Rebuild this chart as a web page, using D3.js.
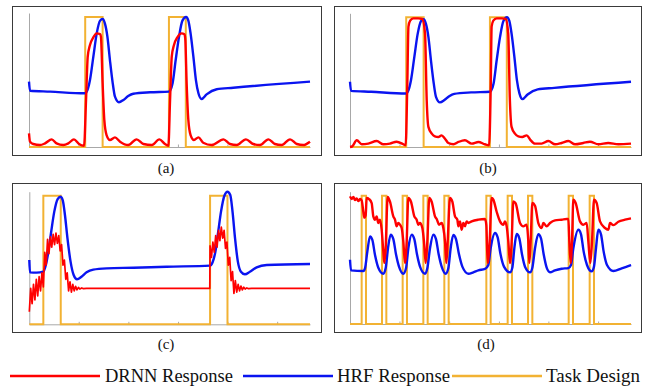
<!DOCTYPE html>
<html><head><meta charset="utf-8">
<script src="https://cdn.jsdelivr.net/npm/d3@7"></script>
<style>body{margin:0;background:#fff}svg{display:block}</style>
</head><body>
<script>
// ---------- DATA (time in % of run, response normalised to task amplitude) ----------
const tickTimes = [17.6, 35.3, 53.0, 70.6, 88.3];
const panelLabels = ["(a)", "(b)", "(c)", "(d)"];
const seriesNames = ["DRNN Response", "HRF Response", "Task Design"];

const taskAB = [[0,0],[20.0,1],[26.2,0],[49.8,1],[55.8,0],[100,0]];
const hrfAB = [[0,0.503],[0.36,0.433],[7.5,0.426],[19.9,0.413],[20.8,0.438],[21.7,0.515],[22.9,0.695],[24.1,0.874],[25.3,0.972],[26.2,0.985],[27.0,0.951],[27.9,0.849],[28.8,0.669],[29.8,0.49],[30.6,0.387],[32.0,0.344],[33.6,0.362],[35.3,0.392],[37.1,0.41],[43.1,0.421],[49.8,0.426],[50.2,0.433],[51.1,0.49],[52.2,0.669],[53.4,0.849],[54.6,0.972],[55.9,1.0],[56.7,0.972],[57.5,0.874],[58.5,0.695],[59.4,0.515],[60.3,0.413],[61.4,0.369],[63.2,0.405],[66.8,0.444],[72.7,0.456],[100,0.503]];
const drnnA = [[0,0.105],[0.36,0.041],[1.5,0.023],[3.9,0.015],[5.7,0.028],[8.1,0.059],[9.8,0.028],[12.2,0.015],[14.0,0.028],[16.0,0.059],[17.8,0.023],[19.6,0.01],[20.3,0.362],[20.9,0.695],[21.7,0.785],[22.9,0.844],[24.1,0.874],[25.3,0.869],[25.6,0.849],[26.2,0.49],[26.8,0.208],[27.6,0.092],[28.8,0.054],[30.6,0.074],[32.4,0.041],[35.3,0.015],[38.3,0.059],[40.7,0.023],[43.7,0.015],[46.4,0.059],[48.4,0.023],[49.6,0.01],[50.2,0.362],[50.8,0.695],[51.6,0.785],[52.8,0.844],[54.3,0.874],[55.3,0.867],[55.6,0.836],[56.1,0.49],[56.7,0.208],[57.5,0.092],[58.7,0.054],[60.3,0.074],[62.0,0.033],[65.0,0.015],[69.2,0.059],[71.5,0.023],[73.9,0.015],[77.2,0.059],[79.8,0.023],[82.2,0.015],[85.2,0.059],[87.5,0.023],[89.9,0.015],[92.9,0.059],[95.3,0.023],[97.6,0.015],[100,0.041]];
const drnnB = [[0,0],[0.8,0.005],[2.4,0.052],[4.2,0.021],[6.5,0.026],[9.5,0.046],[11.9,0.021],[14.2,0.026],[16.6,0.041],[19.0,0.021],[19.8,0.013],[20.4,0.49],[20.8,0.928],[21.4,0.974],[22.5,0.992],[24.3,0.992],[25.7,0.987],[26.7,0.876],[27.3,0.361],[27.9,0.155],[29.1,0.103],[30.2,0.082],[31.4,0.077],[32.6,0.09],[33.8,0.064],[35.0,0.031],[36.8,0.021],[38.6,0.039],[40.9,0.052],[43.3,0.026],[45.7,0.039],[48.0,0.021],[49.5,0.013],[50.1,0.49],[50.4,0.928],[51.0,0.974],[52.2,0.992],[54.0,0.992],[55.4,0.987],[56.3,0.876],[56.9,0.361],[57.5,0.155],[58.7,0.103],[59.9,0.082],[61.3,0.077],[62.9,0.09],[64.1,0.057],[65.8,0.026],[68.2,0.026],[70.6,0.046],[73.0,0.021],[75.3,0.031],[77.7,0.046],[80.1,0.021],[83.0,0.031],[85.4,0.041],[88.4,0.021],[91.9,0.031],[95.5,0.021],[100,0.026]];

const taskC = [[0,0],[5.0,1],[11.2,0],[64.4,1],[70.6,0],[100,0]];
const hrfC = [[0,0.5],[0.24,0.404],[2.6,0.402],[5.0,0.409],[5.9,0.461],[6.8,0.565],[7.8,0.72],[8.9,0.876],[10.1,0.974],[11.1,0.992],[11.9,0.966],[12.7,0.85],[13.6,0.668],[14.7,0.487],[15.8,0.383],[17.0,0.35],[18.6,0.37],[20.4,0.404],[22.8,0.425],[27.6,0.435],[37.1,0.44],[48.9,0.448],[64.4,0.456],[65.3,0.482],[66.3,0.565],[67.3,0.72],[68.3,0.876],[69.5,1.0],[70.6,1.031],[71.6,1.005],[72.4,0.876],[73.3,0.668],[74.3,0.487],[75.4,0.409],[76.8,0.389],[78.6,0.409],[81.0,0.443],[84.6,0.461],[100,0.469]];
const drnnC = [[0,0.098],[0.5,0.28],[1.0,0.16],[1.5,0.31],[2.0,0.19],[2.5,0.35],[3.0,0.22],[3.5,0.37],[4.0,0.26],[4.5,0.40],[5.0,0.29],[5.5,0.56],[6.0,0.46],[6.5,0.66],[7.0,0.55],[7.5,0.68],[8.0,0.60],[8.5,0.70],[9.0,0.62],[9.5,0.71],[10.0,0.63],[10.5,0.69],[11.0,0.57],[11.5,0.62],[12.0,0.46],[12.5,0.50],[13.0,0.35],[13.5,0.40],[14.0,0.26],[14.5,0.33],[15.0,0.25],[15.5,0.31],[16.0,0.26],[16.5,0.295],[17.0,0.268],[17.5,0.287],[18.0,0.274],[18.7,0.283],[19.3,0.277],[20.4,0.28],[64.3,0.28],[64.4,0.61],[64.9,0.52],[65.4,0.64],[65.9,0.56],[66.4,0.69],[66.9,0.60],[67.4,0.73],[67.9,0.65],[68.4,0.755],[68.9,0.67],[69.4,0.73],[69.9,0.59],[70.4,0.64],[70.9,0.46],[71.4,0.52],[71.9,0.34],[72.4,0.41],[72.9,0.24],[73.4,0.34],[73.9,0.25],[74.4,0.31],[74.9,0.26],[75.4,0.297],[75.9,0.268],[76.4,0.288],[76.9,0.274],[77.5,0.283],[78.1,0.277],[79.2,0.28],[100,0.28]];

const taskD = [[0,0],[4.15,1],[5.69,0],[11.39,1],[12.93,0],[18.74,1],[20.28,0],[26.10,1],[27.64,0],[33.57,1],[35.11,0],[48.52,1],[50.06,0],[56.11,1],[57.65,0],[63.35,1],[64.89,0],[77.82,1],[79.36,0],[85.29,1],[86.83,0],[100,0]];
const hrfD = [[0,0.501],[0.36,0.418],[4.74,0.413],[5.34,0.434],[6.17,0.564],[7.12,0.683],[7.95,0.655],[8.90,0.538],[10.08,0.439],[11.86,0.392],[12.69,0.434],[13.52,0.590],[14.47,0.696],[15.42,0.662],[16.37,0.543],[17.44,0.447],[18.98,0.392],[19.93,0.434],[20.76,0.590],[21.95,0.696],[22.89,0.662],[23.84,0.543],[24.91,0.447],[26.69,0.392],[27.52,0.434],[28.47,0.590],[29.66,0.696],[30.60,0.662],[31.55,0.543],[32.62,0.447],[34.05,0.392],[34.99,0.434],[35.82,0.590],[36.77,0.694],[37.72,0.662],[38.79,0.543],[39.98,0.447],[42.11,0.392],[43.89,0.403],[45.67,0.418],[48.04,0.429],[49.23,0.460],[50.06,0.590],[51.60,0.709],[52.55,0.675],[53.50,0.551],[54.80,0.447],[56.94,0.403],[57.77,0.439],[58.48,0.590],[59.31,0.701],[60.26,0.668],[61.21,0.543],[62.28,0.447],[64.06,0.403],[64.89,0.439],[65.84,0.590],[67.02,0.699],[67.97,0.668],[68.92,0.543],[69.99,0.439],[71.17,0.403],[72.95,0.418],[75.33,0.431],[77.70,0.436],[78.65,0.460],[79.48,0.590],[81.26,0.735],[82.21,0.699],[83.16,0.564],[84.34,0.460],[86.00,0.410],[86.83,0.447],[87.54,0.590],[88.37,0.735],[89.32,0.699],[90.27,0.564],[91.46,0.460],[93.71,0.413],[96.68,0.434],[100,0.460]];
const drnnD = [[0,0.995],[0.59,0.974],[1.19,0.990],[1.78,0.966],[2.37,0.979],[2.97,0.958],[3.56,0.974],[4.15,0.964],[4.74,0.875],[5.10,0.829],[5.58,0.849],[5.93,0.982],[6.76,0.974],[7.71,0.943],[8.30,0.839],[8.90,0.813],[9.49,0.839],[10.08,0.787],[10.68,0.813],[11.27,0.735],[11.86,0.564],[12.22,0.475],[12.69,0.590],[13.40,0.990],[14.23,0.953],[15.42,0.839],[16.01,0.813],[16.61,0.761],[17.20,0.787],[17.79,0.774],[18.39,0.748],[18.98,0.642],[19.57,0.475],[20.17,0.642],[20.76,0.982],[21.71,0.953],[22.89,0.839],[23.72,0.813],[24.32,0.774],[24.91,0.787],[25.74,0.748],[26.33,0.642],[26.93,0.475],[27.52,0.642],[28.23,0.982],[29.06,0.953],[30.25,0.839],[30.96,0.813],[31.67,0.774],[32.62,0.787],[33.21,0.748],[33.81,0.642],[34.28,0.475],[34.76,0.642],[35.59,0.982],[36.42,0.953],[37.37,0.839],[38.20,0.813],[38.55,0.761],[39.15,0.800],[39.74,0.735],[40.33,0.787],[40.93,0.761],[41.52,0.800],[42.11,0.787],[43.30,0.800],[45.67,0.813],[48.04,0.818],[48.52,0.771],[48.99,0.475],[49.70,0.642],[50.42,0.982],[51.01,0.969],[52.19,0.875],[53.38,0.800],[54.57,0.774],[55.16,0.800],[55.75,0.761],[56.35,0.642],[56.94,0.475],[57.53,0.642],[58.13,0.956],[58.96,0.940],[60.50,0.787],[61.68,0.761],[62.87,0.774],[63.46,0.642],[63.82,0.475],[64.29,0.642],[64.89,0.943],[65.84,0.922],[67.02,0.787],[68.21,0.748],[68.80,0.787],[69.99,0.761],[71.17,0.787],[72.95,0.808],[75.33,0.813],[77.11,0.818],[77.70,0.818],[78.06,0.642],[78.53,0.475],[79.00,0.642],[79.48,0.969],[80.31,0.943],[81.85,0.800],[83.04,0.774],[84.22,0.787],[84.82,0.642],[85.53,0.475],[86.12,0.642],[86.83,0.969],[87.78,0.943],[88.97,0.800],[90.75,0.748],[91.93,0.735],[92.53,0.787],[93.71,0.771],[95.49,0.797],[97.86,0.813],[100,0.823]];

// ---------- LAYOUT ----------
const W = 652, H = 387;
const FONT = "Liberation Serif, Times New Roman, serif";
const colors = {drnn: "#ff0000", hrf: "#0a14f0", task: "#f2b233"};
const panels = [
  {label: panelLabels[0], box: [12, 6, 321, 155], plot: [29, 310, 147, 17], task: taskAB, hrf: hrfAB, drnn: drnnA, cap: [166, 173]},
  {label: panelLabels[1], box: [334, 6, 641, 155], plot: [350, 631, 147, 17.3], task: taskAB, hrf: hrfAB, drnn: drnnB, cap: [488, 173]},
  {label: panelLabels[2], box: [12, 183, 321, 332], plot: [29.3, 310, 324.3, 195.7], task: taskC, hrf: hrfC, drnn: drnnC, cap: [166, 348.5]},
  {label: panelLabels[3], box: [334, 183, 641, 332], plot: [350, 631, 324, 195.7], task: taskD, hrf: hrfD, drnn: drnnD, cap: [486, 348.5]}
];

const svg = d3.select("body").append("svg").attr("width", W).attr("height", H);

panels.forEach((p, i) => {
  const g = svg.append("g");
  const x = d3.scaleLinear().domain([0, 100]).range([p.plot[0], p.plot[1]]);
  const y = d3.scaleLinear().domain([0, 1]).range([p.plot[2], p.plot[3]]);

  g.append("rect")
    .attr("x", p.box[0] + 0.5).attr("y", p.box[1] + 0.5)
    .attr("width", p.box[2] - p.box[0]).attr("height", p.box[3] - p.box[1])
    .attr("fill", "#fff").attr("stroke", "#3a3a3a").attr("stroke-width", 1);

  const yAx = y.copy().domain([0, 1.03]).range([p.plot[2], p.plot[3] - 4]);
  g.append("g").attr("transform", `translate(${p.plot[0]},0)`)
    .call(d3.axisLeft(yAx).tickValues([]).tickSizeOuter(0))
    .call(s => s.select(".domain").attr("stroke", "#a8a8a8").attr("stroke-width", 1));
  g.append("g").attr("transform", `translate(0,${p.plot[2]})`)
    .call(d3.axisBottom(x).tickValues(tickTimes).tickSize(-2.5).tickSizeOuter(0).tickFormat(""))
    .call(s => { s.select(".domain").attr("stroke", "#a8a8a8"); s.selectAll(".tick line").attr("stroke", "#a8a8a8"); });

  const stepLine = d3.line().x(d => x(d[0])).y(d => y(d[1])).curve(d3.curveStepAfter);
  const smooth = d3.line().x(d => x(d[0])).y(d => y(d[1])).curve(d3.curveMonotoneX);
  const lin = d3.line().x(d => x(d[0])).y(d => y(d[1]));

  g.append("path").datum(p.task).attr("d", stepLine).attr("fill", "none")
    .attr("stroke", colors.task).attr("stroke-width", 2);
  g.append("path").datum(p.hrf).attr("d", smooth).attr("fill", "none")
    .attr("stroke", colors.hrf).attr("stroke-width", 2.4).attr("stroke-linejoin", "round");
  g.append("path").datum(p.drnn).attr("d", i === 2 ? lin : smooth).attr("fill", "none")
    .attr("stroke", colors.drnn).attr("stroke-width", i === 2 ? 1.7 : 2.4).attr("stroke-linejoin", "round");

  svg.append("text").attr("x", p.cap[0]).attr("y", p.cap[1])
    .attr("font-family", FONT).attr("text-anchor", "middle").attr("font-size", 15)
    .attr("fill", "#111").text(p.label);
});

// ---------- LEGEND ----------
const legendItems = [
  {name: seriesNames[0], color: colors.drnn, x1: 10, x2: 100, tx: 105, tw: 128},
  {name: seriesNames[1], color: colors.hrf, x1: 243, x2: 333, tx: 337, tw: 113},
  {name: seriesNames[2], color: colors.task, x1: 452, x2: 542, tx: 546, tw: 94}
];
const lg = svg.append("g");
legendItems.forEach(it => {
  lg.append("line").attr("x1", it.x1).attr("x2", it.x2).attr("y1", 376).attr("y2", 376)
    .attr("stroke", it.color).attr("stroke-width", 2.4);
  lg.append("text").attr("x", it.tx).attr("y", 381.5)
    .attr("font-family", FONT).attr("font-size", 18)
    .attr("textLength", it.tw).attr("lengthAdjust", "spacingAndGlyphs")
    .attr("fill", "#111").text(it.name);
});
</script>
</body></html>
